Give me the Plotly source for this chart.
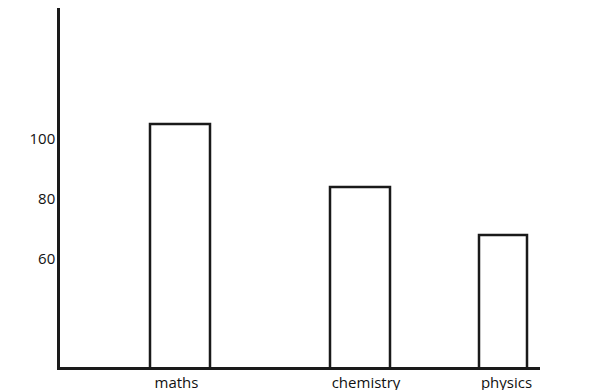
import plotly.graph_objects as go

# Data
categories = ["maths", "chemistry", "physics"]
marks = [105, 84, 68]
y_tick_values = [60, 80, 100]
y_tick_labels = ["60", "80", "100"]

# Layout-only positions (uneven hand-drawn spacing)
bar_centers = [120, 300, 443]
bar_widths = [60, 60, 48]
label_centers = [116.5, 306, 446.5]

fig = go.Figure()
fig.add_trace(go.Bar(
    x=bar_centers,
    y=marks,
    width=bar_widths,
    marker=dict(color="white", line=dict(color="#1a1a1a", width=2.5)),
    hoverinfo="skip",
))

font_family = "Open Sans, Noto Sans, sans-serif"

fig.update_layout(
    width=599,
    height=390,
    margin=dict(l=52, r=67, t=0, b=31, autoexpand=False),
    paper_bgcolor="white",
    plot_bgcolor="white",
    showlegend=False,
    font=dict(family=font_family, size=15, color="#111111"),
    xaxis=dict(
        range=[0, 480],
        tickmode="array",
        tickvals=label_centers,
        ticktext=categories,
        showgrid=False,
        zeroline=False,
        showline=True,
        linecolor="#1a1a1a",
        linewidth=2.5,
        ticks="",
        tickfont=dict(size=15),
        automargin=False,
        fixedrange=True,
    ),
    yaxis=dict(
        range=[24, 143.7],
        tickmode="array",
        tickvals=y_tick_values,
        ticktext=y_tick_labels,
        showgrid=False,
        zeroline=False,
        showline=True,
        linecolor="#1a1a1a",
        linewidth=2.5,
        ticks="",
        ticklabelstandoff=-1,
        tickfont=dict(size=15),
        automargin=False,
        fixedrange=True,
    ),
)

fig.write_html("out.html")
